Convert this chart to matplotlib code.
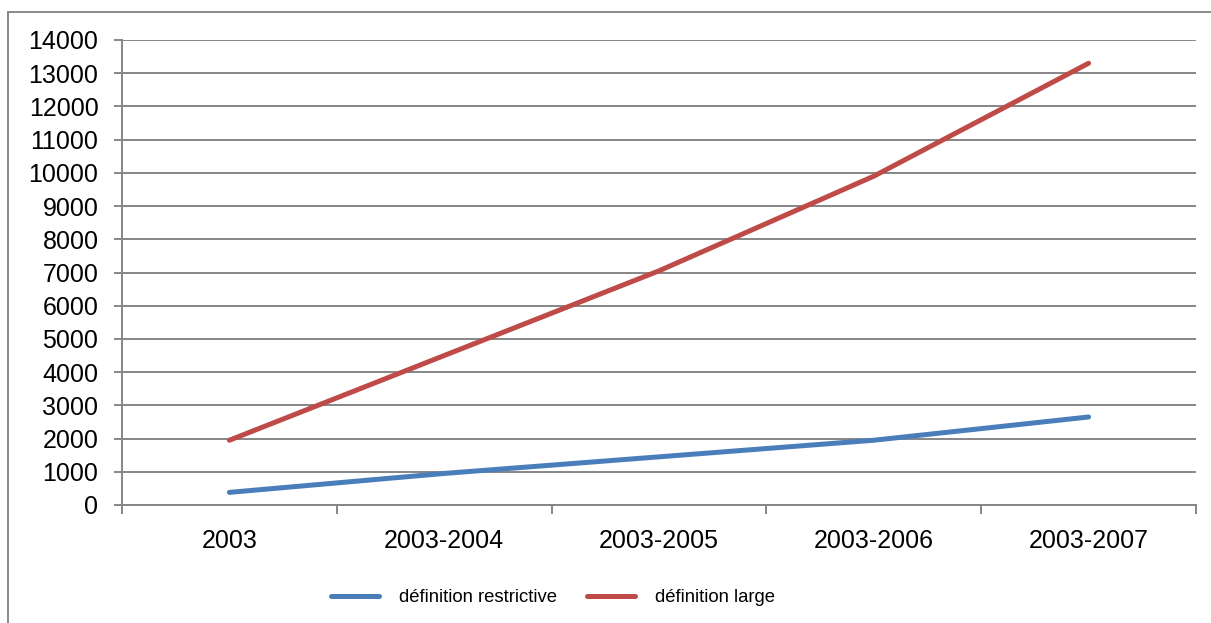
import matplotlib
matplotlib.use("Agg")
import matplotlib.pyplot as plt
from matplotlib.lines import Line2D

categories = ["2003", "2003-2004", "2003-2005", "2003-2006", "2003-2007"]
restrictive = [380, 950, 1450, 1950, 2650]
large = [1950, 4500, 7050, 9900, 13300]
series_names = ["définition restrictive", "définition large"]
yticks = list(range(0, 14001, 1000))

plt.rcParams['font.family'] = ['Liberation Sans', 'DejaVu Sans']

W, H = 1211, 623
fig = plt.figure(figsize=(W / 100, H / 100), dpi=100)
ax = fig.add_axes([122 / W, 1 - 505 / H, (1196 - 122) / W, (505 - 40) / H])

grid_c = "#868686"
blue = "#4A7EBB"
red = "#BE4B48"

x = list(range(len(categories)))
l1, = ax.plot(x, restrictive, color=blue, lw=3.6, solid_capstyle='round', solid_joinstyle='round')
l2, = ax.plot(x, large, color=red, lw=3.6, solid_capstyle='round', solid_joinstyle='round')

ax.set_xlim(-0.5, len(categories) - 0.5)
ax.set_ylim(0, 14000)
ax.set_yticks(yticks)
ax.set_yticklabels([str(v) for v in yticks])
ax.set_xticks(x)
ax.set_xticklabels(categories)
ax.set_xticks([i - 0.5 for i in range(len(categories) + 1)], minor=True)

ax.grid(axis='y', color=grid_c, lw=1.4)
ax.set_axisbelow(True)
for s in ['top', 'right']:
    ax.spines[s].set_visible(False)
for s in ['left', 'bottom']:
    ax.spines[s].set_color(grid_c)
    ax.spines[s].set_linewidth(1.4)

ax.tick_params(axis='y', direction='out', length=6, width=1.4, color=grid_c, labelsize=18, pad=11)
ax.tick_params(axis='x', which='major', length=0, labelsize=18, pad=17)
ax.tick_params(axis='x', which='minor', direction='out', length=6.5, width=1.4, color=grid_c)

leg = fig.legend([l1, l2], series_names, loc='center', bbox_to_anchor=(553 / W, 1 - 598 / H),
                 ncol=2, frameon=False, fontsize=13.3, handlelength=2.6, handletextpad=1.1,
                 columnspacing=1.6)
for lh in leg.get_lines():
    lh.set_linewidth(3.6)

# outer chart frame (left and top edges)
fig.add_artist(Line2D([8 / W, 8 / W], [0, 1 - 12 / H], transform=fig.transFigure, color="#898989", lw=1.4))
fig.add_artist(Line2D([8 / W, 1], [1 - 12 / H, 1 - 12 / H], transform=fig.transFigure, color="#898989", lw=1.4))

fig.savefig("out.png", dpi=100)
